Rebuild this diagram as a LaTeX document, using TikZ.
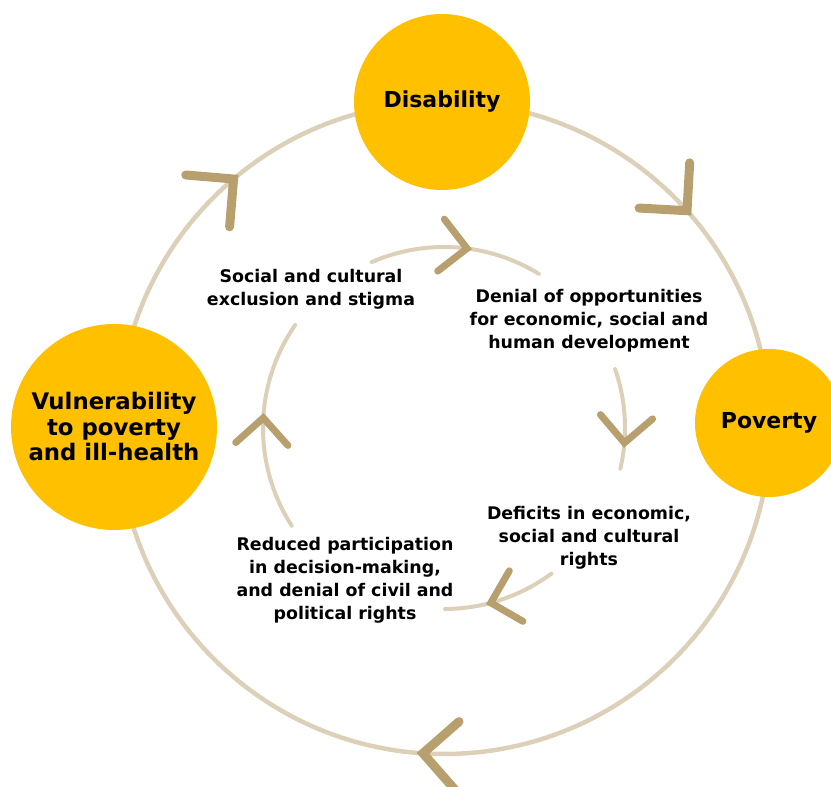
\documentclass[tikz,border=0pt]{standalone}
\usepackage{fontspec}
\setmainfont{DejaVu Sans}
\usetikzlibrary{calc}
\definecolor{ring}{HTML}{DCD0B9}
\definecolor{chevc}{HTML}{B89F6E}
\definecolor{gold}{HTML}{FFC000}
\tikzset{
  outerring/.style={draw=ring, line width=4.5pt},
  innerring/.style={draw=ring, line width=4pt, line cap=round},
  outerchev/.style={draw=chevc, line width=9pt, line cap=round, line join=miter},
  innerchev/.style={draw=chevc, line width=7pt, line cap=round, line join=miter},
  bigcircle/.style={circle, fill=gold, draw=none, align=center, inner sep=0pt,
    font=\bfseries\fontsize{22}{25.5}\selectfont},
  innertext/.style={align=center, font=\bfseries\fontsize{17.4}{23}\selectfont}
}
% #1 angle, #2 radius, #3 arm length, #4 style
\newcommand\chevat[4]{%
  \draw[#4] ($(c)+(#1:#2)$) ++(#1+45:#3) -- ($(c)+(#1:#2)$) -- ++(#1+135:#3);}
\begin{document}
\begin{tikzpicture}[x=1pt,y=1pt]
\useasboundingbox (0,0) rectangle (831,787);
\coordinate (c) at (444,359);
% outer ring
\draw[outerring] (c) circle[radius=326];
% inner arcs
\draw[innerring] ($(c)+(113.5:181)$) arc[start angle=113.5, end angle=58.4, radius=181];
\draw[innerring] ($(c)+(19:181)$) arc[start angle=19, end angle=-13, radius=181];
\draw[innerring] ($(c)+(-53.6:181)$) arc[start angle=-53.6, end angle=-89.7, radius=181];
\draw[innerring] ($(c)+(-147.3:181)$) arc[start angle=-147.3, end angle=-214.7, radius=181];
% outer chevrons
\chevat{130.2}{326}{48}{outerchev}
\chevat{41.8}{326}{48}{outerchev}
\chevat{266.3}{326}{48}{outerchev}
% inner chevrons
\chevat{82.7}{181}{37}{innerchev}
\chevat{-4.7}{181}{37}{innerchev}
\chevat{-75}{181}{37}{innerchev}
\chevat{176.8}{181}{37}{innerchev}
% big circles
\node[bigcircle, minimum size=176pt] (dis) at (442,685) {Disability};
\node[bigcircle, minimum size=148pt] (pov) at (769,364) {Poverty};
\node[bigcircle, minimum size=206pt, font=\bfseries\fontsize{22.8}{25.5}\selectfont] (vul) at (114,360) {Vulnerability\\to poverty\\and ill-health};
% inner texts
\node[innertext] (soc) at (311,498) {Social and cultural\\exclusion and stigma};
\node[innertext] (den) at (589,466) {Denial of opportunities\\for economic, social and\\human development};
\node[innertext] (def) at (589,249) {Deficits in economic,\\social and cultural\\rights};
\node[innertext] (red) at (345,207) {Reduced participation\\in decision-making,\\and denial of civil and\\political rights};
\end{tikzpicture}
\end{document}
